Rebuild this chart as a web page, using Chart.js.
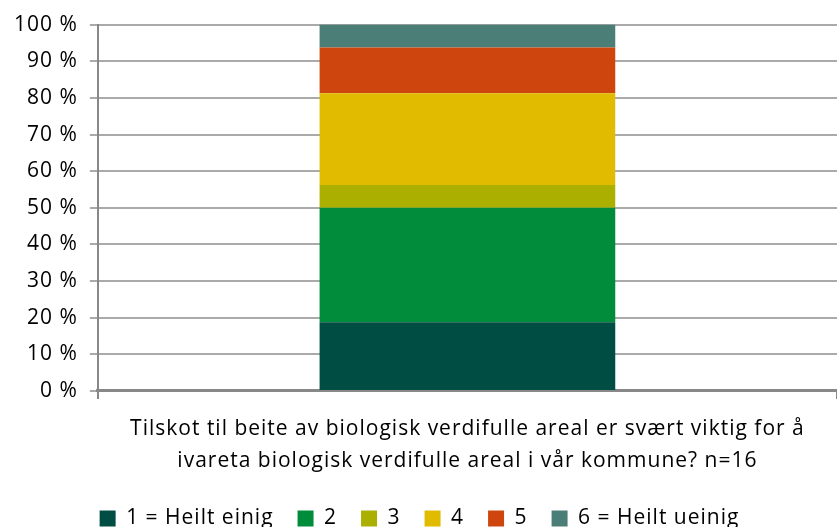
<!DOCTYPE html>
<html>
<head>
<meta charset="utf-8">
<script src="https://cdn.jsdelivr.net/npm/chart.js@4/dist/chart.umd.min.js"></script>
<style>
  html, body { margin: 0; padding: 0; background: #fff; }
  #wrap { width: 837px; height: 527px; }
</style>
</head>
<body>
<div id="wrap"><canvas id="myChart"></canvas></div>
<script>
const categories = [["Tilskot til beite av biologisk verdifulle areal er svært viktig for å", "ivareta biologisk verdifulle areal i vår kommune? n=16"]];
const seriesNames = ["1 = Heilt einig", "2", "3", "4", "5", "6 = Heilt ueinig"];
const s1 = [18.75];
const s2 = [31.25];
const s3 = [6.25];
const s4 = [25];
const s5 = [12.5];
const s6 = [6.25];
const colors = ["#004d43", "#008c3a", "#abb000", "#e1bb00", "#cf450e", "#4a7e77"];

const values = [s1, s2, s3, s4, s5, s6];
const data = {
  labels: categories,
  datasets: seriesNames.map((name, i) => ({
    label: name,
    data: values[i],
    backgroundColor: colors[i],
    borderWidth: 0,
    barPercentage: 0.4,
    categoryPercentage: 1,
  })),
};

// Excel-like text is a bit wider, so spread the letters slightly
const spacing = {
  id: "spacing",
  beforeUpdate(chart) { chart.ctx.letterSpacing = "1px"; },
  beforeDraw(chart) { chart.ctx.letterSpacing = "1px"; },
};

const ctx = document.getElementById("myChart");
Chart.defaults.font.family = "'Open Sans', sans-serif";
Chart.defaults.color = "#000";
new Chart(ctx, {
  type: "bar",
  data: data,
  plugins: [spacing],
  options: {
    responsive: true,
    maintainAspectRatio: false,
    animation: false,
    layout: { padding: { top: 10, right: 0, left: 2, bottom: -12 } },
    scales: {
      x: {
        stacked: true,
        afterFit: (scale) => { scale.height -= 7; },
        grid: {
          drawOnChartArea: false,
          offset: true,
          tickLength: 8,
          color: "#888",
          lineWidth: 2,
        },
        border: { color: "#888", width: 3 },
        ticks: {
          font: { size: 21, lineHeight: 1.524 },
          padding: 14,
          color: "#000",
          maxRotation: 0,
          minRotation: 0,
        },
      },
      y: {
        stacked: true,
        min: 0,
        max: 100,
        ticks: {
          stepSize: 10,
          font: { size: 21 },
          padding: 12,
          color: "#000",
          callback: (v) => v + " %",
        },
        grid: { color: "#aaa", lineWidth: 2, tickLength: 8 },
        border: { color: "#888", width: 2 },
      },
    },
    plugins: {
      legend: {
        position: "bottom",
        labels: {
          boxWidth: 16,
          boxHeight: 16,
          padding: 24,
          font: { size: 21 },
          color: "#000",
        },
      },
      tooltip: { enabled: false },
    },
  },
});
</script>
</body>
</html>
